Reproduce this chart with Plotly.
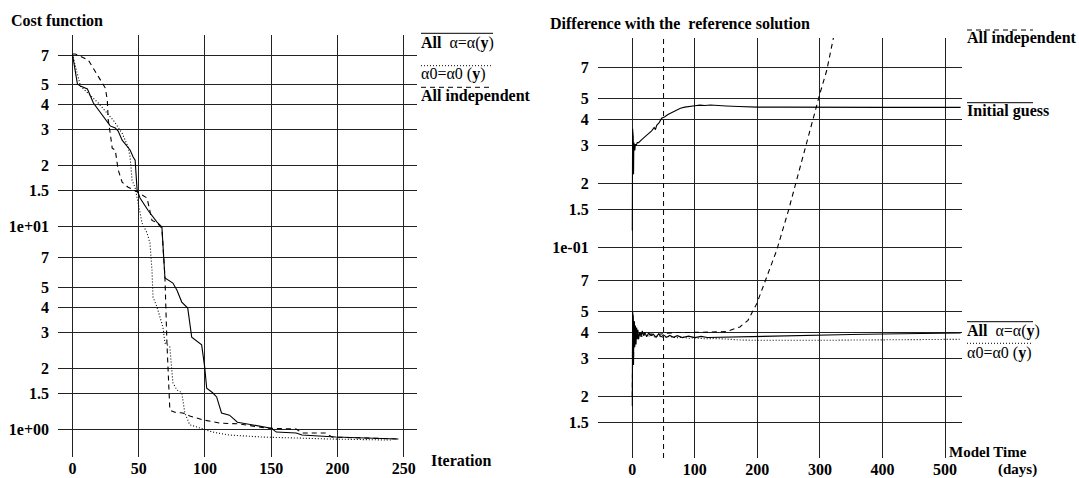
import plotly.graph_objects as go

# ---------------- Cost function (left panel) ----------------
iter_all = [0, 3.75, 6, 11.3, 15.8, 21, 28.5, 32.3, 34.5, 37.5, 43.5, 45.8, 47.3, 48.8, 51, 57,
            63.8, 67.5, 69.8, 75.8, 78.8, 82.5, 87, 90, 96, 97.5, 99.8, 101.3, 105.8, 108.8,
            112.5, 118.5, 124.5, 135.8, 150, 153.8, 168.8, 173.3, 198.8, 221.3, 246]
cost_all = [70.8, 50.4, 49.2, 47.6, 40.6, 36.6, 31.3, 30.6, 29.5, 26.6, 23.8, 22.0, 21.2, 15.1,
            13.8, 12.0, 10.5, 9.93, 5.56, 5.25, 4.85, 4.23, 3.95, 2.84, 2.66, 2.60, 2.02, 1.59,
            1.51, 1.44, 1.20, 1.17, 1.08, 1.05, 1.01, 0.966, 0.956, 0.934, 0.913, 0.903, 0.893]

iter_a0 = [0, 6, 19.5, 30.8, 37.5, 42, 43.5, 45, 47.3, 49.5, 52.5, 56.3, 58.5, 60, 60.8, 63.8,
           68.3, 69.8, 73.5, 75.8, 78.8, 82.5, 84.8, 88.5, 96, 105.8, 118.5, 143.3, 168.8,
           193.5, 240.8]
cost_a0 = [70.8, 49.2, 40.6, 33.4, 28.8, 24.6, 22.0, 16.9, 15.5, 13.0, 10.4, 9.27, 8.28, 6.09,
           4.48, 4.0, 3.18, 2.66, 2.54, 1.69, 1.56, 1.51, 1.20, 1.05, 1.01, 0.966, 0.934, 0.913,
           0.903, 0.893, 0.882]

iter_ind = [0, 2.25, 12, 18.8, 24.8, 26.3, 27, 28.5, 30, 32.3, 34.5, 37.5, 42, 48.8, 56.3, 60,
            63.8, 67.5, 69.8, 71.3, 73.5, 77.3, 83.3, 88.5, 98.3, 111, 126, 146, 168.8, 173.3,
            191.3, 195.8, 246]
cost_ind = [70.8, 70.8, 66.1, 55.7, 48.1, 42.0, 33.4, 28.8, 24.3, 23.8, 19.0, 16.5, 15.6, 14.8,
            13.8, 10.7, 10.4, 9.8, 5.62, 2.66, 1.24, 1.21, 1.20, 1.16, 1.11, 1.07, 1.06, 1.01,
            1.0, 0.956, 0.956, 0.913, 0.893]

cost_ticks = [1, 1.5, 2, 3, 4, 5, 7, 10, 15, 20, 30, 40, 50, 70]
cost_ticktext = ["1e+00", "1.5", "2", "3", "4", "5", "7", "1e+01", "1.5", "2", "3", "4", "5", "7"]
iter_ticks = [0, 50, 100, 150, 200, 250]

# ---------------- Difference with the reference solution (right panel) ----------------
day_init = [0, 0.5, 1, 1.5, 2, 2.5, 3, 3.5, 4, 5, 6, 8, 10, 13, 16, 20, 23, 27, 31, 35, 37, 39,
            43, 47, 52, 57, 61, 66, 71, 77, 84, 92, 100, 108, 116, 125, 135, 150, 170, 200,
            240, 280, 320, 360, 400, 440, 480, 525]
diff_init = [0.12, 0.36, 0.16, 0.33, 0.22, 0.31, 0.27, 0.30, 0.285, 0.305, 0.30, 0.31, 0.31,
             0.318, 0.322, 0.33, 0.336, 0.345, 0.352, 0.365, 0.357, 0.374, 0.385, 0.404, 0.41,
             0.42, 0.426, 0.435, 0.442, 0.45, 0.455, 0.46, 0.462, 0.465, 0.463, 0.466, 0.463,
             0.461, 0.458, 0.455, 0.455, 0.454, 0.454, 0.455, 0.454, 0.454, 0.454, 0.454]

day_all = [0, 0.5, 1, 1.5, 2, 2.5, 3, 3.5, 4, 5, 6, 7, 8, 9, 10, 12, 14, 16, 18, 20, 23, 26, 30,
           34, 38, 42, 46, 50, 55, 60, 66, 72, 80, 90, 100, 110, 120, 135, 150, 170, 200, 250,
           300, 350, 400, 450, 500, 525]
diff_all = [0.018, 0.050, 0.022, 0.047, 0.028, 0.045, 0.032, 0.044, 0.034, 0.043, 0.035, 0.042,
            0.037, 0.041, 0.037, 0.040, 0.038, 0.0405, 0.0385, 0.040, 0.038, 0.0395, 0.0385,
            0.039, 0.0378, 0.0392, 0.038, 0.0388, 0.0378, 0.0386, 0.0378, 0.0385, 0.0377,
            0.0383, 0.0377, 0.0382, 0.0377, 0.0378, 0.0377, 0.038, 0.0382, 0.0385, 0.0388,
            0.039, 0.0392, 0.0394, 0.0396, 0.0396]

day_a0 = [0, 1, 2, 3, 4, 5, 6, 8, 10, 13, 16, 20, 25, 30, 36, 42, 50, 60, 70, 80, 90, 100, 115,
          130, 150, 175, 200, 250, 300, 350, 400, 450, 500, 525]
diff_a0 = [0.03, 0.045, 0.034, 0.042, 0.036, 0.041, 0.037, 0.040, 0.038, 0.0395, 0.038, 0.039,
           0.0382, 0.0388, 0.0379, 0.0385, 0.0378, 0.0382, 0.0376, 0.0379, 0.0374, 0.0376,
           0.0372, 0.0373, 0.0371, 0.0367, 0.0366, 0.0365, 0.0366, 0.0367, 0.0368, 0.0369,
           0.037, 0.037]

day_ind = [0, 1, 2, 3, 4, 5, 7, 10, 15, 20, 30, 40, 55, 70, 90, 110, 130, 150, 172, 185, 199,
           209, 220, 231, 250, 268, 279, 289, 300, 311, 321, 335]
diff_ind = [0.02, 0.048, 0.03, 0.045, 0.035, 0.043, 0.04, 0.039, 0.0395, 0.039, 0.0392, 0.039,
            0.0395, 0.0398, 0.0398, 0.04, 0.04, 0.0402, 0.0423, 0.0454, 0.0544, 0.0652,
            0.0794, 0.097, 0.15, 0.238, 0.307, 0.409, 0.527, 0.678, 0.955, 1.5]

diff_ticks = [0.015, 0.02, 0.03, 0.04, 0.05, 0.07, 0.1, 0.15, 0.2, 0.3, 0.4, 0.5, 0.7]
diff_ticktext = ["1.5", "2", "3", "4", "5", "7", "1e-01", "1.5", "2", "3", "4", "5", "7"]
day_ticks = [0, 100, 200, 300, 400, 500]
ref_day = 50

# ---------------- figure ----------------
W, H = 1079, 478
FONT = "Liberation Serif"
SOLID, DASHED, DOTTED = "solid", "5px,4px", "1px,2px"


def px(x):
    return x / W


def py(y):
    return 1 - y / H


fig = go.Figure()


def line(x, y, dash, xa, ya):
    fig.add_trace(go.Scatter(x=x, y=y, mode="lines", xaxis=xa, yaxis=ya,
                             line=dict(color="black", width=1.1, dash=dash),
                             hoverinfo="skip", showlegend=False))


line(iter_all, cost_all, SOLID, "x", "y")
line(iter_a0, cost_a0, DOTTED, "x", "y")
line(iter_ind, cost_ind, DASHED, "x", "y")

line(day_init, diff_init, SOLID, "x2", "y2")
line(day_all, diff_all, SOLID, "x2", "y2")
line(day_a0, diff_a0, DOTTED, "x2", "y2")
line(day_ind, diff_ind, DASHED, "x2", "y2")

tick_font = dict(family=FONT, size=16, color="black", weight="bold")
grid = dict(showgrid=True, gridcolor="#222222", gridwidth=1, showline=False,
            zeroline=False, ticks="", tickfont=tick_font)

fig.update_layout(
    width=W, height=H,
    margin=dict(l=0, r=0, t=0, b=0),
    paper_bgcolor="white", plot_bgcolor="white",
    showlegend=False,
    xaxis=dict(domain=[px(58), px(417)], range=[-10.9, 260], tickvals=iter_ticks,
               anchor="y", **grid),
    yaxis=dict(domain=[py(457), py(35)], type="log", range=[-0.138, 1.944],
               tickvals=cost_ticks, ticktext=cost_ticktext, anchor="x",
               ticklabelstandoff=8, **grid),
    xaxis2=dict(domain=[px(597.7), px(961.7)], range=[-55.3, 526.7], tickvals=day_ticks,
                anchor="y2", **grid),
    yaxis2=dict(domain=[py(458), py(38)], type="log", range=[-1.989, -0.0174],
                tickvals=diff_ticks, ticktext=diff_ticktext, anchor="x2",
                ticklabelstandoff=8, **grid),
)

# reference day marker on the right panel
fig.add_shape(type="line", xref="x2", yref="y2 domain", x0=ref_day, x1=ref_day, y0=0, y1=1,
              line=dict(color="black", width=1, dash=DASHED))

text_font = dict(family=FONT, size=16, color="black")


def label(x, y, text, size=16):
    fig.add_annotation(x=px(x), y=py(y), xref="paper", yref="paper", text=text,
                       showarrow=False, xanchor="left", yanchor="middle",
                       font=dict(text_font, size=size), borderpad=0)


def key(x0, x1, y, dash):
    fig.add_shape(type="line", xref="paper", yref="paper", x0=px(x0), x1=px(x1),
                  y0=py(y), y1=py(y), line=dict(color="black", width=1, dash=dash))


# titles and axis names
label(10, 20, "<b>Cost function</b>")
label(549, 23, "<b>Difference with the  reference solution</b>")
label(430, 460, "<b>Iteration</b>")
label(948, 452, "<b>Model Time</b>", 15)
label(997, 469, "<b>(days)</b>", 15)

# left panel keys
key(421, 493, 33.3, SOLID)
label(420, 42.7, "<b>All</b>  α=α(<b>y</b>)")
key(421, 493, 65.7, DOTTED)
label(420, 74, "α0=α0 (<b>y</b>)")
key(421, 493, 87.3, DASHED)
label(420, 96, "<b>All independent</b>")

# right panel keys
key(967, 1033, 30, DASHED)
label(966, 37.7, "<b>All independent</b>")
key(967, 1033, 102.7, SOLID)
label(966, 111, "<b>Initial guess</b>")
key(967, 1033, 321.7, SOLID)
label(966, 330.7, "<b>All</b>  α=α(<b>y</b>)")
key(967, 1033, 343.3, DOTTED)
label(966, 352.7, "α0=α0 (<b>y</b>)")

fig.write_html("out.html")
